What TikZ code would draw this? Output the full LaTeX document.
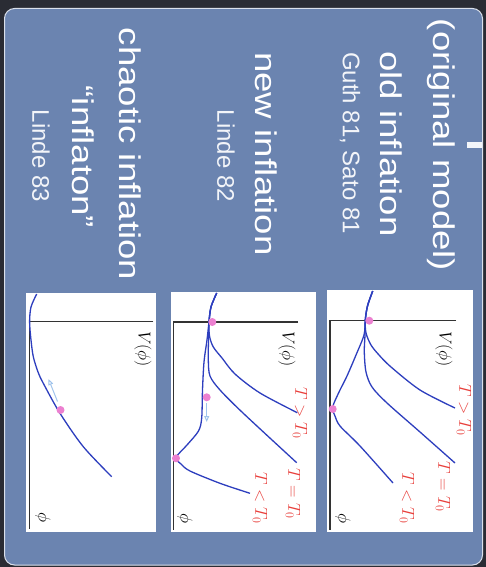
\documentclass[tikz,border=0pt]{standalone}
\usepackage{fontspec}
\setmainfont{Liberation Sans}
\newfontfamily\slidefont[FakeStretch=1.22]{Liberation Sans}
\usetikzlibrary{arrows.meta,positioning}

\definecolor{slideblue}{RGB}{107,132,176}
\definecolor{darkframe}{RGB}{42,44,52}
\definecolor{curveblue}{RGB}{45,62,190}
\definecolor{dotpink}{RGB}{236,128,208}
\definecolor{labelred}{RGB}{232,62,58}
\definecolor{rollblue}{RGB}{160,196,236}

\begin{document}
\begin{tikzpicture}[
  x=1pt, y=-1pt,
  title/.style={text=white, rotate=-90, inner sep=0pt, font=\slidefont\fontsize{30}{32}\selectfont},
  cite/.style={text=white!92!slideblue, rotate=-90, inner sep=0pt, font=\fontsize{24}{26}\selectfont},
  panel/.style={fill=white},
  vaxis/.style={draw=black!80, line width=1.4pt},
  pot/.style={draw=curveblue, line width=1.3pt},
  vac/.style={circle, fill=dotpink, inner sep=0pt, minimum size=8pt},
  tlab/.style={text=labelred, rotate=-90, inner sep=0pt, font=\fontsize{18}{20}\selectfont},
  vlab/.style={rotate=-90, inner sep=0pt, font=\fontsize{18}{20}\selectfont},
  roll/.style={draw=rollblue, line width=1pt, -{Triangle[open, length=6pt, width=5pt]}}
]
  \fill[darkframe] (0,0) rectangle (486,567);
  \draw[fill=slideblue, draw=white!75!slideblue, line width=1pt, rounded corners=10pt] (4.5,8.5) rectangle (482.5,565);
  \fill[white!92!slideblue] (467,142) rectangle (481.5,147.5);

  \node[title] (orig) at (441,145) {(original model)};
  \node[title] (old) at (391,144) {old inflation};
  \node[cite] (guth) at (350,143) {Guth 81, Sato 81};
  \node[title] (new) at (266,154) {new inflation};
  \node[cite] (lindeb) at (226,156) {Linde 82};
  \node[title] (chaotic) at (130,154) {chaotic inflation};
  \node[title] (inflaton) at (83,157) {“inflaton”};
  \node[cite] (lindec) at (41,156) {Linde 83};

  \fill[panel] (327,290) rectangle (473,532);
  \fill[panel] (171,292) rectangle (316,532);
  \fill[panel] (26,293) rectangle (156,532);

  \coordinate (oa) at (330,320.5);
  \coordinate (ob) at (173.3,322);
  \coordinate (oc) at (29.3,321.7);
  \draw[vaxis] (456,320.5) -- (oa) -- (330,530);
  \draw[vaxis] (298,322) -- (ob) -- (173.3,530);
  \draw[vaxis] (153.3,321.7) -- (oc) -- (29.3,529);

  \draw[pot] plot[smooth] coordinates {(372.7,291) (367.5,306) (365.3,320) (366,333) (371,345) (379,355) (391,367) (420,390) (455,408)};
  \draw[pot] plot[smooth] coordinates {(372.7,291) (367.5,306) (365.3,320) (365,335) (364.3,352) (366,372) (372,387) (387,403) (420,432) (455,463)};
  \draw[pot] plot[smooth] coordinates {(372.7,291) (367.5,306) (365.3,320) (364,335) (356,355) (347,376) (340,390) (334,403) (332.5,409) (335,416) (340,426) (360,446) (393,483)};
  \node[vac] (falsea) at (369.3,320.7) {};
  \node[vac] (truea) at (332.7,409) {};
  \node[tlab] (hota) at (464,410) {$T>T_0$};
  \node[tlab] (crita) at (443,487) {$T=T_0$};
  \node[tlab] (colda) at (407,498) {$T<T_0$};
  \node[vlab] (va) at (444,349) {$V(\phi)$};
  \node[vlab] (phia) at (343,519) {$\phi$};

  \draw[pot] plot[smooth] coordinates {(216.7,293) (211,307) (209,322) (209.5,336) (213.3,347) (222,358) (235,374) (260,393) (297.3,412.7)};
  \draw[pot] plot[smooth] coordinates {(216.7,293) (211,307) (209,322) (208.5,340) (208.3,360) (210,376) (220,390) (243.3,413.3) (296.7,462.7)};
  \draw[pot] plot[smooth] coordinates {(216.7,293) (211,307) (209,322) (207,340) (204,362) (202.5,390) (201.7,418) (198.5,431) (187,445) (176,457.5) (181,464) (190,471) (220,483.3) (250,493.3)};
  \node[vac] (falseb) at (212.3,322) {};
  \node[vac] (slowb) at (206.7,397.3) {};
  \node[vac] (trueb) at (176,458.3) {};
  \coordinate (rollb) at (206.7,422);
  \draw[roll] ([yshift=-6pt]slowb.center) -- (rollb);
  \node[tlab] (hotb) at (300,413) {$T>T_0$};
  \node[tlab] (critb) at (293,494) {$T=T_0$};
  \node[tlab] (coldb) at (260,498) {$T<T_0$};
  \node[vlab] (vb) at (287,349) {$V(\phi)$};
  \node[vlab] (phib) at (185,519) {$\phi$};

  \draw[pot] plot[smooth] coordinates {(36.7,294) (31,307) (29.6,322) (31,340) (33.3,356.7) (38,372) (43.3,383.3) (60,413.3) (83.3,446.7) (111.7,476.7)};
  \node[vac] (slowc) at (60.5,410) {};
  \coordinate (rollc) at (48.5,379);
  \draw[roll] (57.5,401.5) -- (rollc);
  \node[vlab] (vc) at (143,349) {$V(\phi)$};
  \node[vlab] (phic) at (43,518) {$\phi$};
\end{tikzpicture}
\end{document}
